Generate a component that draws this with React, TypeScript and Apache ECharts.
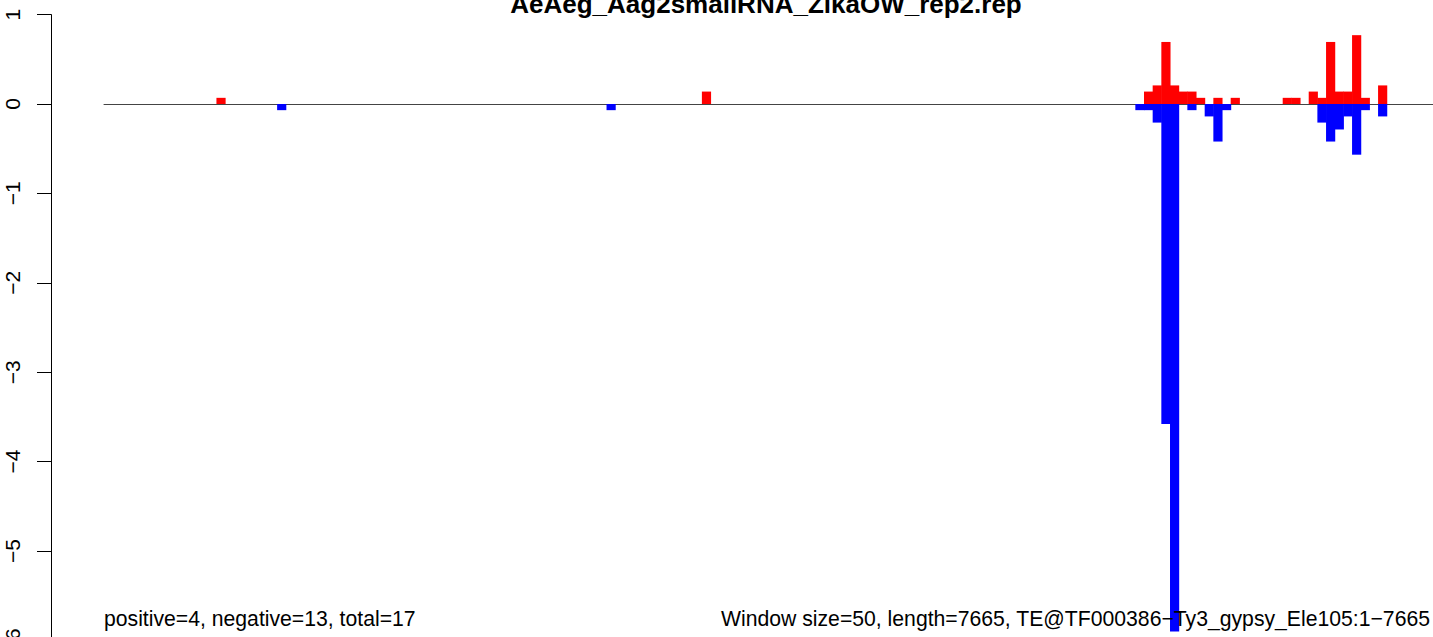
import React, { useEffect, useRef } from "react";
import * as echarts from "echarts";

const TITLE = "AeAeg_Aag2smallRNA_ZikaOW_rep2.rep";
const LEFT_NOTE = "positive=4, negative=13, total=17";
const RIGHT_NOTE = "Window size=50, length=7665, TE@TF000386\u2212Ty3_gypsy_Ele105:1\u22127665";

const WINDOW_SIZE = 50;
const SEQ_LENGTH = 7665;
const BIN_COUNT = Math.ceil(SEQ_LENGTH / WINDOW_SIZE);

// sense (positive) windows
const posBins = [13, 69, 120, 121, 122, 123, 124, 125, 126, 128, 130, 136, 137, 139, 140, 141, 142, 143, 144, 145, 147];
const posVals = [0.069, 0.139, 0.139, 0.208, 0.694, 0.208, 0.139, 0.139, 0.069, 0.069, 0.069, 0.069, 0.069, 0.139, 0.069, 0.694, 0.139, 0.139, 0.77, 0.069, 0.208];

// antisense (negative) windows
const negBins = [20, 58, 119, 120, 121, 122, 123, 125, 127, 128, 129, 140, 141, 142, 143, 144, 145, 147];
const negVals = [-0.069, -0.069, -0.069, -0.069, -0.208, -3.58, -5.9, -0.069, -0.139, -0.42, -0.069, -0.208, -0.42, -0.285, -0.139, -0.567, -0.069, -0.139];

const yTicks = [-6, -5, -4, -3, -2, -1, 0, 1];

function fill(bins: number[], vals: number[]) {
  const arr: (number | null)[] = new Array(BIN_COUNT).fill(null);
  bins.forEach((b, i) => {
    arr[b] = vals[i];
  });
  return arr;
}

export default function App() {
  const ref = useRef<HTMLDivElement>(null);
  useEffect(() => {
    document.body.style.margin = "0";
    if (!ref.current) return;
    const chart = echarts.init(ref.current, undefined, { renderer: "svg" });
    const cats = Array.from({ length: BIN_COUNT }, (_, i) => String(i * WINDOW_SIZE));
    const font = "'Liberation Sans', Arial, Helvetica, sans-serif";
    chart.setOption({
      animation: false,
      backgroundColor: "#ffffff",
      grid: {
        left: 104,
        right: -6,
        top: 14.6,
        bottom: -3.4,
        containLabel: false,
        outerBoundsMode: "none",
      },
      xAxis: {
        type: "category",
        data: cats,
        axisLine: { show: true, onZero: true, lineStyle: { color: "#444", width: 1 } },
        axisTick: { show: false },
        axisLabel: { show: false },
        splitLine: { show: false },
      },
      yAxis: {
        type: "value",
        min: yTicks[0],
        max: yTicks[yTicks.length - 1],
        interval: 1,
        offset: 53,
        axisLine: { show: true, onZero: false, lineStyle: { color: "#000", width: 1 } },
        axisTick: { show: true, length: 14, lineStyle: { color: "#000", width: 1 } },
        axisLabel: {
          rotate: 90,
          margin: 28,
          fontSize: 21,
          fontFamily: font,
          color: "#000",
          formatter: (v: number) => String(v).replace("-", "\u2212"),
        },
        splitLine: { show: false },
      },
      series: [
        {
          type: "bar",
          stack: "s",
          barWidth: "106%",
          data: fill(posBins, posVals),
          itemStyle: { color: "#ff0000" },
        },
        {
          type: "bar",
          stack: "s",
          barWidth: "106%",
          data: fill(negBins, negVals),
          itemStyle: { color: "#0000ff" },
        },
      ],
      graphic: [
        {
          type: "text",
          x: 766,
          y: 4,
          style: {
            text: TITLE,
            fontSize: 26,
            fontWeight: "bold",
            fontFamily: font,
            fill: "#000",
            align: "center",
            verticalAlign: "middle",
          },
        },
        {
          type: "text",
          x: 104,
          y: 618.7,
          style: {
            text: LEFT_NOTE,
            fontSize: 21.2,
            fontFamily: font,
            fill: "#000",
            align: "left",
            verticalAlign: "middle",
          },
        },
        {
          type: "text",
          x: 1430,
          y: 618.7,
          z: 10,
          style: {
            text: RIGHT_NOTE,
            fontSize: 21.2,
            fontFamily: font,
            fill: "#000",
            align: "right",
            verticalAlign: "middle",
          },
        },
      ],
    });
    return () => chart.dispose();
  }, []);
  return <div ref={ref} style={{ width: 1433, height: 637 }} />;
}
